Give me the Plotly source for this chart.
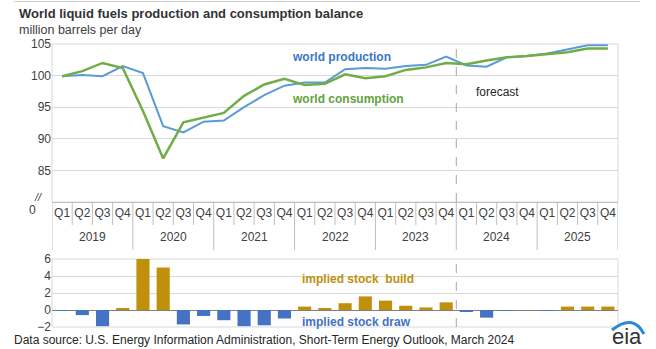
import plotly.graph_objects as go

years = ["2019", "2020", "2021", "2022", "2023", "2024", "2025"]
quarters = ["Q1", "Q2", "Q3", "Q4"]
quarter_labels = [q for _ in years for q in quarters]
xpos = list(range(len(quarter_labels)))

production = [99.9, 100.1, 99.9, 101.5, 100.4, 92.0, 91.0, 92.7,
              92.9, 95.0, 96.9, 98.4, 98.9, 98.9, 101.0, 101.2,
              101.1, 101.5, 101.7, 103.0, 101.6, 101.4, 102.9, 103.1,
              103.5, 104.1, 104.8, 104.8]
consumption = [99.9, 100.7, 102.0, 101.2, 94.4, 86.9, 92.6, 93.4,
               94.1, 96.8, 98.6, 99.5, 98.5, 98.7, 100.2, 99.6,
               99.9, 100.9, 101.3, 102.0, 101.8, 102.4, 102.9, 103.1,
               103.4, 103.7, 104.3, 104.3]
stock_change = [-0.1, -0.6, -1.9, 0.2, 6.0, 5.0, -1.7, -0.7,
                -1.2, -1.9, -1.8, -1.0, 0.4, 0.2, 0.8, 1.6,
                1.1, 0.5, 0.3, 0.9, -0.2, -0.9, -0.05, 0.0,
                -0.05, 0.4, 0.4, 0.4]

BLUE_LINE = "#5b9bd5"
GREEN_LINE = "#70ad47"
GOLD = "#c0900c"
BLUE_BAR = "#4472c4"
GRID = "#d9d9d9"
SEP = "#bfbfbf"
FONT = "Arial, Liberation Sans, sans-serif"
TXT = "#404040"

W, H = 656, 349
ML, MR, MT, MB = 52, 38, 44, 22
PW, PH = W - ML - MR, H - MT - MB


def px(x):
    return (x - ML) / PW


def py(y):
    return (H - MB - y) / PH


top_bottom = py(202)
bot_top = py(259)

fig = go.Figure()
fig.add_trace(go.Scatter(x=xpos, y=production, mode="lines",
                         line=dict(color=BLUE_LINE, width=2), xaxis="x", yaxis="y",
                         showlegend=False))
fig.add_trace(go.Scatter(x=xpos, y=consumption, mode="lines",
                         line=dict(color=GREEN_LINE, width=2.5), xaxis="x", yaxis="y",
                         showlegend=False))
fig.add_trace(go.Bar(x=xpos, y=stock_change,
                     marker=dict(color=[GOLD if v > 0 else BLUE_BAR for v in stock_change],
                                 line=dict(width=0)),
                     width=0.65, xaxis="x2", yaxis="y2", showlegend=False))

fig.update_layout(
    width=W, height=H, margin=dict(l=ML, r=MR, t=MT, b=MB),
    paper_bgcolor="white", plot_bgcolor="white",
    font=dict(family=FONT, size=12, color=TXT),
    xaxis=dict(domain=[0, 1], anchor="y", range=[-0.5, 27.5],
               tickvals=xpos, ticktext=quarter_labels, tickangle=0,
               showgrid=False, showline=True, linecolor=SEP, linewidth=1,
               zeroline=False, ticks="", tickfont=dict(size=12, color=TXT)),
    yaxis=dict(domain=[top_bottom, 1], anchor="x", range=[80, 105],
               tickvals=[85, 90, 95, 100, 105], showgrid=True, gridcolor=GRID,
               showline=False, zeroline=False, ticks="", tickfont=dict(size=12, color=TXT)),
    xaxis2=dict(domain=[0, 1], anchor="y2", range=[-0.5, 27.5], showticklabels=False,
                showgrid=False, zeroline=False, showline=False, ticks=""),
    yaxis2=dict(domain=[0, bot_top], anchor="x2", range=[-2, 6],
                tickvals=[-2, 0, 2, 4, 6], showgrid=True, gridcolor=GRID,
                zeroline=True, zerolinecolor="#7f7f7f", zerolinewidth=1,
                showline=False, ticks="", tickfont=dict(size=12, color=TXT)),
)

shapes = []
shapes.append(dict(type="rect", xref="paper", yref="paper", x0=0, x1=1, y0=top_bottom, y1=1,
                   line=dict(color=GRID, width=1), layer="below"))
shapes.append(dict(type="rect", xref="paper", yref="paper", x0=0, x1=1, y0=0, y1=bot_top,
                   line=dict(color=GRID, width=1), layer="below"))
for k in range(len(quarter_labels) + 1):
    b = k - 0.5
    long_sep = (k % 4 == 0)
    shapes.append(dict(type="line", xref="x", yref="paper", x0=b, x1=b,
                       y0=top_bottom, y1=py(250 if long_sep else 225),
                       line=dict(color=SEP, width=1)))
shapes.append(dict(type="line", xref="x2", yref="paper", x0=19.5, x1=19.5, y0=top_bottom, y1=1,
                   line=dict(color="#a6a6a6", width=1, dash="dash")))
shapes.append(dict(type="line", xref="x2", yref="paper", x0=19.5, x1=19.5, y0=0, y1=bot_top,
                   line=dict(color="#a6a6a6", width=1, dash="dash")))
shapes.append(dict(type="line", xref="paper", yref="paper", x0=px(14), x1=px(640), y0=py(1.5), y1=py(1.5),
                   line=dict(color="#d0d0d0", width=1)))
x0, y0 = px(612), py(330)
xc, yc = px(633), py(313)
x1, y1 = px(644), py(334)
shapes.append(dict(type="path", xref="paper", yref="paper",
                   path=f"M {x0},{y0} Q {xc},{yc} {x1},{y1}",
                   line=dict(color="#2b8ad8", width=3)))
fig.update_layout(shapes=shapes)

ann = [
    dict(text="<b>World liquid fuels production and consumption balance</b>", x=px(17), y=py(13),
         font=dict(size=13, color="#333333")),
    dict(text="million barrels per day", x=px(17), y=py(30), font=dict(size=12.5, color=TXT)),
    dict(text="<b>world production</b>", x=px(290), y=py(57), font=dict(size=12, color="#3a78c2")),
    dict(text="<b>world consumption</b>", x=px(290), y=py(99), font=dict(size=12, color="#62a33d")),
    dict(text="forecast", x=px(474), y=py(92), font=dict(size=12, color="#262626")),
    dict(text="<b>implied stock  build</b>", x=px(300), y=py(279), font=dict(size=12, color=GOLD)),
    dict(text="<b>implied stock draw</b>", x=px(300), y=py(322), font=dict(size=12, color=BLUE_BAR)),
    dict(text="0", x=px(27), y=py(210), font=dict(size=12, color=TXT)),
    dict(text="<i>//</i>", x=px(32), y=py(197), font=dict(size=11, color=TXT)),
    dict(text="Data source: U.S. Energy Information Administration, Short-Term Energy Outlook, March 2024",
         x=px(12), y=py(340), font=dict(size=12, color="#262626")),
    dict(text="eia", x=px(610), y=py(336), font=dict(size=22, color="#333333")),
]
for a in ann:
    a.update(xref="paper", yref="paper", showarrow=False, xanchor="left", yanchor="middle")
for i, yr in enumerate(years):
    ann.append(dict(text=yr, x=4 * i + 1.5, y=py(237), xref="x", yref="paper", showarrow=False,
                    xanchor="center", yanchor="middle", font=dict(size=12, color=TXT)))
fig.update_layout(annotations=ann)

fig.write_html("out.html")
